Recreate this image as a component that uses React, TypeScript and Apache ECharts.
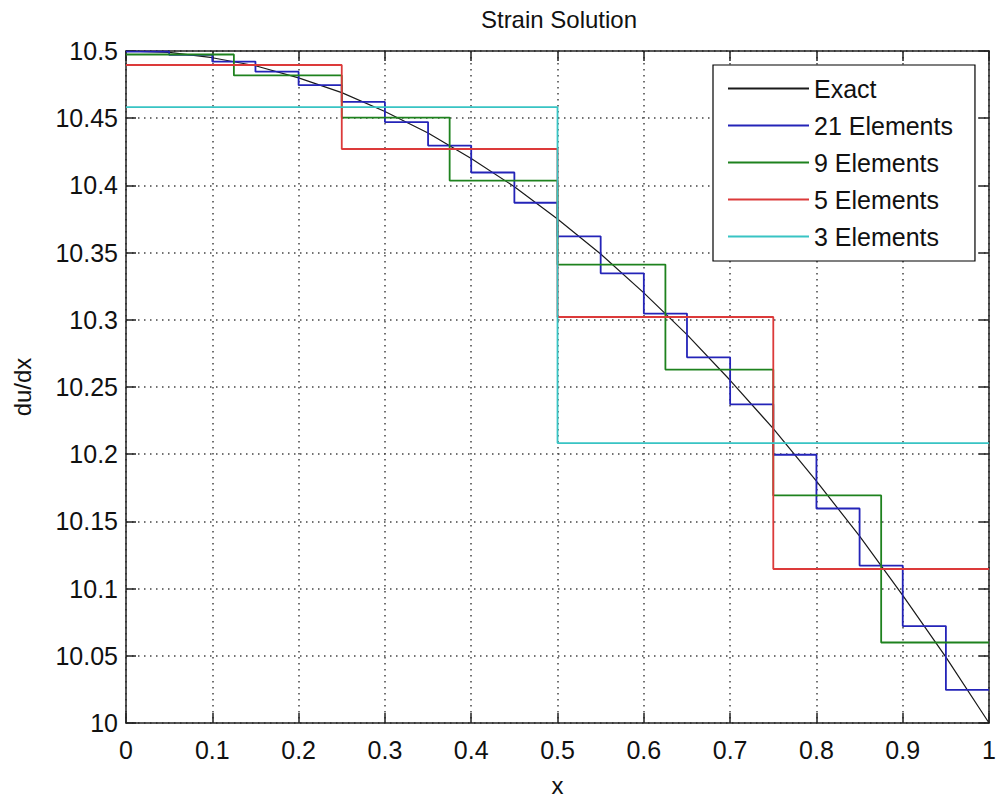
import React, { useEffect, useRef } from "react";
import * as echarts from "echarts";

const exactX = [0, 0.05, 0.1, 0.15, 0.2, 0.25, 0.3, 0.35, 0.4, 0.45, 0.5, 0.55, 0.6, 0.65, 0.7, 0.75, 0.8, 0.85, 0.9, 0.95, 1];
const exactY = [10.5, 10.499, 10.495, 10.489, 10.48, 10.469, 10.455, 10.439, 10.42, 10.399, 10.375, 10.349, 10.32, 10.289, 10.255, 10.219, 10.18, 10.139, 10.095, 10.049, 10.0];

// 21 Elements (element breakpoints and constant strain per element)
const breaks21 = [0, 0.05, 0.1, 0.15, 0.2, 0.25, 0.3, 0.35, 0.4, 0.45, 0.5, 0.55, 0.6, 0.65, 0.7, 0.75, 0.8, 0.85, 0.9, 0.95, 1];
const vals21 = [10.4996, 10.4971, 10.4921, 10.4846, 10.4746, 10.4621, 10.4471, 10.4296, 10.4096, 10.3871, 10.3621, 10.3346, 10.3046, 10.2721, 10.2371, 10.1996, 10.1596, 10.1171, 10.0721, 10.0246];

// 9 Elements
const breaks9 = [0, 0.125, 0.25, 0.375, 0.5, 0.625, 0.75, 0.875, 1];
const vals9 = [10.4974, 10.4818, 10.4505, 10.4036, 10.3411, 10.263, 10.1693, 10.0599];

// 5 Elements
const breaks5 = [0, 0.25, 0.5, 0.75, 1];
const vals5 = [10.4896, 10.4271, 10.3021, 10.1146];

// 3 Elements
const breaks3 = [0, 0.5, 1];
const vals3 = [10.4583, 10.2083];

const seriesNames = ["Exact", "21 Elements", "9 Elements", "5 Elements", "3 Elements"];
const seriesColors = ["#1a1a1a", "#2424b8", "#1e821e", "#dc3a3a", "#38c4c4"];

const FONT = "'Liberation Sans', Arial, Helvetica, sans-serif";

function stepData(breaks: number[], vals: number[]) {
  return breaks.map((x, i) => [x, vals[Math.min(i, vals.length - 1)]]);
}

const fmt = (v: number) => String(+v.toFixed(2));

export default function App() {
  const ref = useRef<HTMLDivElement>(null);
  useEffect(() => {
    if (!ref.current) return;
    const chart = echarts.init(ref.current, undefined, { renderer: "svg" });
    const axisLine = { show: true, onZero: false, lineStyle: { color: "#222", width: 1.5 } };
    const tick = { show: true, inside: true, length: 10, lineStyle: { color: "#222", width: 1.5 } };
    const grid = { show: true, lineStyle: { color: "#444", width: 1.5, type: [1.5, 4.5] as any } };
    const stepSeries = [
      stepData(breaks21, vals21),
      stepData(breaks9, vals9),
      stepData(breaks5, vals5),
      stepData(breaks3, vals3),
    ];
    const series: any[] = [
      {
        name: seriesNames[0],
        type: "line",
        data: exactX.map((x, i) => [x, exactY[i]]),
        symbol: "none",
        lineStyle: { color: seriesColors[0], width: 1.2 },
        itemStyle: { color: seriesColors[0] },
      },
      ...stepSeries.map((d, i) => ({
        name: seriesNames[i + 1],
        type: "line",
        step: "end",
        data: d,
        symbol: "none",
        lineStyle: { color: seriesColors[i + 1], width: 1.8 },
        itemStyle: { color: seriesColors[i + 1] },
      })),
    ];
    chart.setOption({
      animation: false,
      backgroundColor: "#fff",
      textStyle: { fontFamily: FONT },
      grid: { left: 126, right: 7, top: 51, bottom: 67, containLabel: false },
      graphic: [
        {
          type: "text",
          x: 559,
          y: 19,
          style: {
            text: "Strain Solution",
            fontSize: 24,
            fontFamily: FONT,
            fill: "#111",
            textAlign: "center",
            textVerticalAlign: "middle",
          },
        },
      ],
      legend: {
        orient: "vertical",
        left: 713,
        top: 65,
        padding: [11, 22, 12, 15],
        backgroundColor: "#fff",
        borderColor: "#000",
        borderWidth: 1.2,
        icon: "rect",
        itemWidth: 81,
        itemHeight: 2,
        itemGap: 12,
        textStyle: { fontSize: 25, color: "#111", fontFamily: FONT },
        data: seriesNames,
      },
      xAxis: [
        {
          type: "value",
          min: 0,
          max: 1,
          interval: 0.1,
          position: "bottom",
          axisLine,
          axisTick: tick,
          splitLine: grid,
          axisLabel: { fontSize: 25, color: "#111", margin: 14, formatter: fmt, fontFamily: FONT },
          name: "x",
          nameLocation: "middle",
          nameGap: 50,
          nameTextStyle: { fontSize: 24, color: "#111", fontFamily: FONT },
        },
        {
          type: "value",
          min: 0,
          max: 1,
          interval: 0.1,
          position: "top",
          axisLine,
          axisTick: tick,
          splitLine: { show: false },
          axisLabel: { show: false },
        },
      ],
      yAxis: [
        {
          type: "value",
          min: 10,
          max: 10.5,
          interval: 0.05,
          position: "left",
          axisLine,
          axisTick: tick,
          splitLine: grid,
          axisLabel: { fontSize: 25, color: "#111", margin: 8, formatter: fmt, fontFamily: FONT },
          name: "du/dx",
          nameLocation: "middle",
          nameRotate: 90,
          nameGap: 92,
          nameTextStyle: { fontSize: 24, color: "#111", fontFamily: FONT },
        },
        {
          type: "value",
          min: 10,
          max: 10.5,
          interval: 0.05,
          position: "right",
          axisLine,
          axisTick: tick,
          splitLine: { show: false },
          axisLabel: { show: false },
        },
      ],
      series,
    });
    return () => chart.dispose();
  }, []);
  return (
    <div
      ref={ref}
      style={{ position: "fixed", left: 0, top: 0, width: 999, height: 802, background: "#fff" }}
    />
  );
}
